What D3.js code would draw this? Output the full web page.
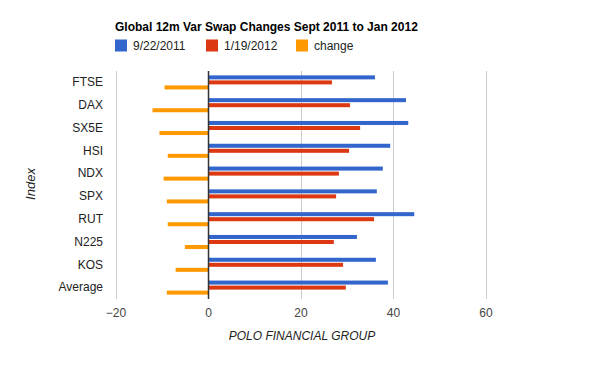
<!DOCTYPE html>
<html><head><meta charset="utf-8">
<script src="https://cdn.jsdelivr.net/npm/d3@7"></script>
<style>body{margin:0;background:#fff;} text{font-family:Arial,"Liberation Sans",sans-serif;}</style>
</head><body>
<svg id="c" width="600" height="371"></svg>
<script>
const categories = ["FTSE","DAX","SX5E","HSI","NDX","SPX","RUT","N225","KOS","Average"];
const sept2011 = [36.1,42.8,43.3,39.4,37.8,36.5,44.6,32.2,36.3,38.9];
const jan2012  = [26.8,30.7,32.9,30.5,28.3,27.7,35.9,27.2,29.2,29.8];
const change   = [-9.4,-12.0,-10.5,-8.7,-9.6,-8.9,-8.7,-5.0,-7.0,-8.9];
const seriesNames = ["9/22/2011","1/19/2012","change"];
const seriesColors = ["#3366cc","#dc3912","#ff9900"];
const xTicks = [-20,0,20,40,60];

const svg = d3.select("#c");
const x = d3.scaleLinear().domain([-20,60]).range([115.5,485.5]);
const y = d3.scaleBand().domain(categories).range([71,299]).paddingInner(0.382).paddingOuter(0.191);
const series = [sept2011, jan2012, change];
const inner = d3.scaleBand().domain(d3.range(3)).range([0,y.bandwidth()]).paddingInner(0.2);

// gridlines
svg.append("g").selectAll("line").data(xTicks.filter(d=>d!==0)).join("line")
  .attr("x1",d=>Math.round(x(d))+0.5).attr("x2",d=>Math.round(x(d))+0.5)
  .attr("y1",71).attr("y2",299).attr("stroke","#cccccc");

// bars
series.forEach((vals,si)=>{
  svg.append("g").selectAll("rect").data(vals).join("rect")
    .attr("x",d=>x(Math.min(0,d)))
    .attr("width",d=>Math.abs(x(d)-x(0)))
    .attr("y",(d,i)=>y(categories[i])+inner(si))
    .attr("height",inner.bandwidth())
    .attr("fill",seriesColors[si]);
});

// zero line
svg.append("line").attr("x1",Math.round(x(0))+0.5).attr("x2",Math.round(x(0))+0.5)
  .attr("y1",71).attr("y2",299).attr("stroke","#333").attr("stroke-width",1.5);

// x axis labels
const xa = d3.axisBottom(x).tickValues(xTicks).tickSize(0).tickPadding(0);
const gx = svg.append("g").attr("transform","translate(0,317)").call(xa);
gx.select(".domain").remove();
gx.selectAll("text").attr("font-size",12).attr("fill","#444").attr("dy",0).attr("font-family","Arial,'Liberation Sans',sans-serif");

// y axis labels
const ya = d3.axisLeft(y).tickSize(0).tickPadding(0);
const gy = svg.append("g").attr("transform","translate(103,0)").call(ya);
gy.select(".domain").remove();
gy.selectAll("text").attr("font-size",12).attr("fill","#222").attr("font-family","Arial,'Liberation Sans',sans-serif");

// title
svg.append("text").attr("x",115).attr("y",31).attr("font-size",12).attr("font-weight","bold").attr("fill","#000")
  .text("Global 12m Var Swap Changes Sept 2011 to Jan 2012");

// legend
const legX = [115,206,296];
seriesNames.forEach((n,i)=>{
  svg.append("rect").attr("x",legX[i]).attr("y",39.5).attr("width",12).attr("height",12).attr("fill",seriesColors[i]);
  svg.append("text").attr("x",legX[i]+18).attr("y",50).attr("font-size",12).attr("fill","#222").text(n);
});

// axis titles
svg.append("text").attr("x",302).attr("y",340).attr("text-anchor","middle").attr("font-size",12)
  .attr("font-style","italic").attr("fill","#222").text("POLO FINANCIAL GROUP");
svg.append("text").attr("transform","translate(35,184) rotate(-90)").attr("text-anchor","middle").attr("font-size",13)
  .attr("font-style","italic").attr("fill","#222").text("Index");
</script>
</body></html>
